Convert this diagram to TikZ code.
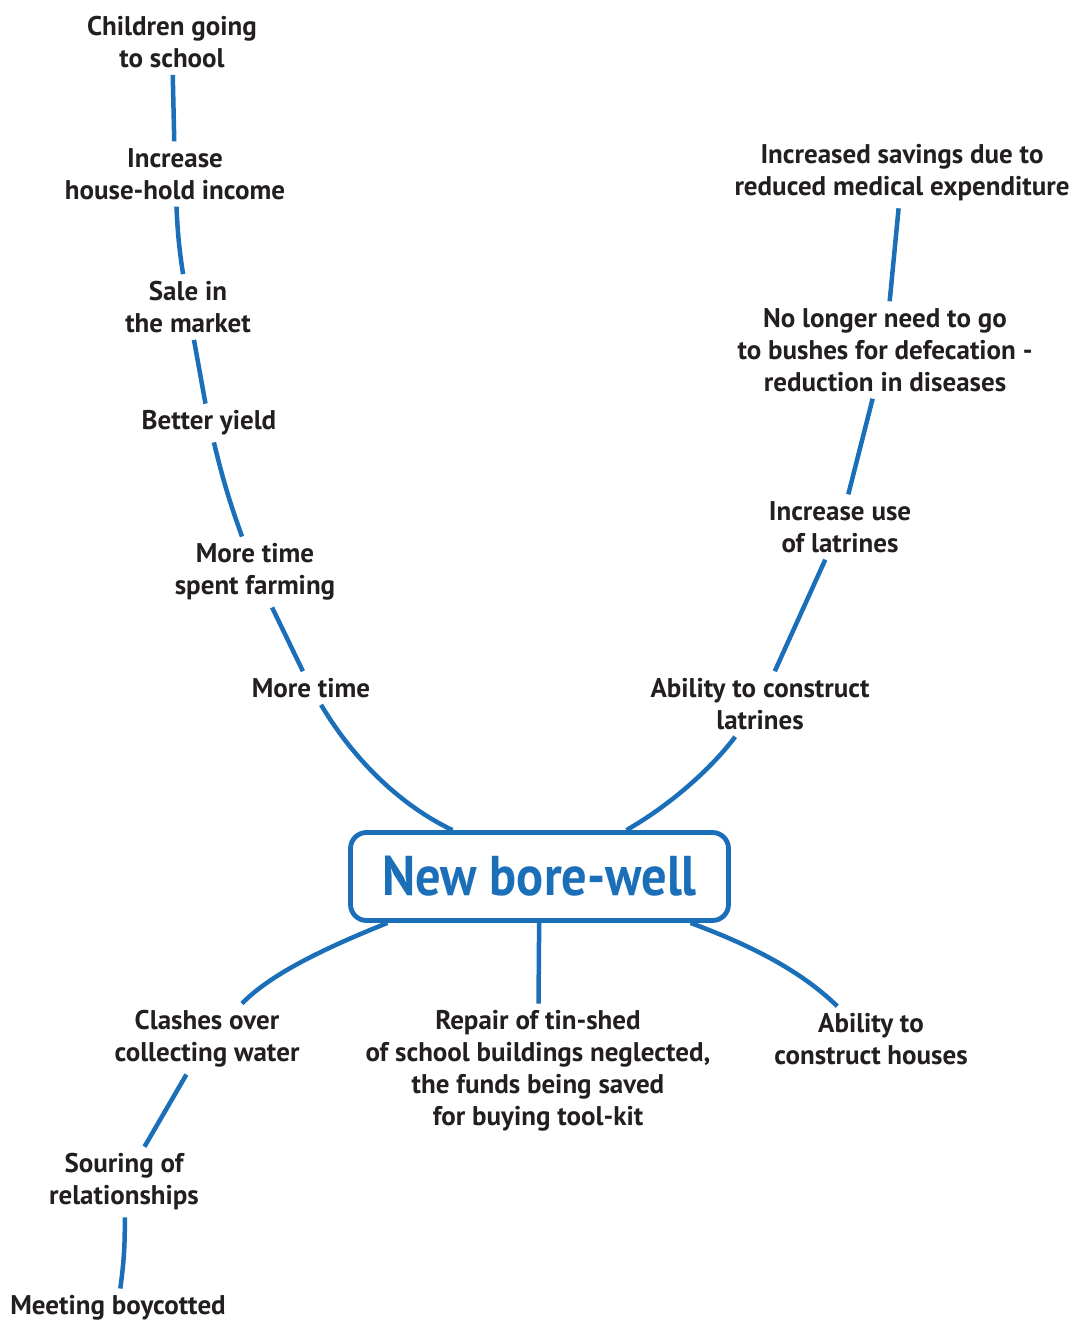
\documentclass[tikz,border=0pt]{standalone}
\usepackage{fontspec}
\setmainfont{PT Sans}
\newfontfamily\titlefont[FakeStretch=0.9]{PT Sans}
\definecolor{lineblue}{HTML}{1A6FB8}
\definecolor{txt}{HTML}{231F20}
\begin{document}
\begin{tikzpicture}[x=1pt,y=-1pt,
  lbl/.style={font=\bfseries\fontsize{27}{32}\selectfont, text=txt, align=center, inner sep=3pt, outer sep=4pt},
  conn/.style={draw=lineblue, line width=4.5pt},
  hub/.style={draw=lineblue, line width=4.8pt, rounded corners=16pt, minimum width=378pt, minimum height=88pt, text=lineblue, font=\titlefont\bfseries\fontsize{56}{60}\selectfont}]
\useasboundingbox (0,0) rectangle (1072,1322);

\node[hub] (box) at (539.5,876.5) {New bore-well};

\node[lbl] (c1) at (172,42) {Children going\\to school};
\node[lbl] (c2) at (175,174) {Increase\\house-hold income};
\node[lbl] (c3) at (188,307) {Sale in\\the market};
\node[lbl] (c4) at (209,423) {Better yield};
\node[lbl] (c5) at (255,572) {More time\\spent farming};
\node[lbl] (c6) at (311,688) {More time};

\node[lbl] (r1) at (760,704) {Ability to construct\\latrines};
\node[lbl] (r2) at (840,527) {Increase use\\of latrines};
\node[lbl] (r3) at (885,350) {No longer need to go\\to bushes for defecation -\\reduction in diseases};
\node[lbl] (r4) at (902,173) {Increased savings due to\\reduced medical expenditure};

\node[lbl] (b1) at (207,1039) {Clashes over\\collecting water};
\node[lbl] (b2) at (538,1071) {Repair of tin-shed\\of school buildings neglected,\\the funds being saved\\for buying tool-kit};
\node[lbl] (b3) at (871,1039) {Ability to\\construct houses};
\node[lbl] (b4) at (124,1182) {Souring of\\relationships};
\node[lbl] (b5) at (118,1308) {Meeting boycotted};

\draw[conn] (c1) -- (c2);
\draw[conn] (c2) to[bend right=3] (c3);
\draw[conn] (c3) -- (c4);
\draw[conn] (c4) to[bend right=3] (c5);
\draw[conn] (c5) -- (c6);
\draw[conn] (c6) .. controls (360,770) and (410,810) .. ([xshift=-87pt]box.north);

\draw[conn] ([xshift=87pt]box.north) .. controls (670,805) and (710,770) .. (r1);
\draw[conn] (r1) -- (r2);
\draw[conn] (r2) -- (r3);
\draw[conn] (r3) -- (r4);

\draw[conn] ([xshift=-152pt]box.south) .. controls (320,950) and (270,975) .. (b1);
\draw[conn] (box) -- (b2);
\draw[conn] ([xshift=151pt]box.south) .. controls (750,945) and (800,970) .. (b3);
\draw[conn] (b1) -- (b4);
\draw[conn] (b4) to[bend left=4] (b5);
\end{tikzpicture}
\end{document}
